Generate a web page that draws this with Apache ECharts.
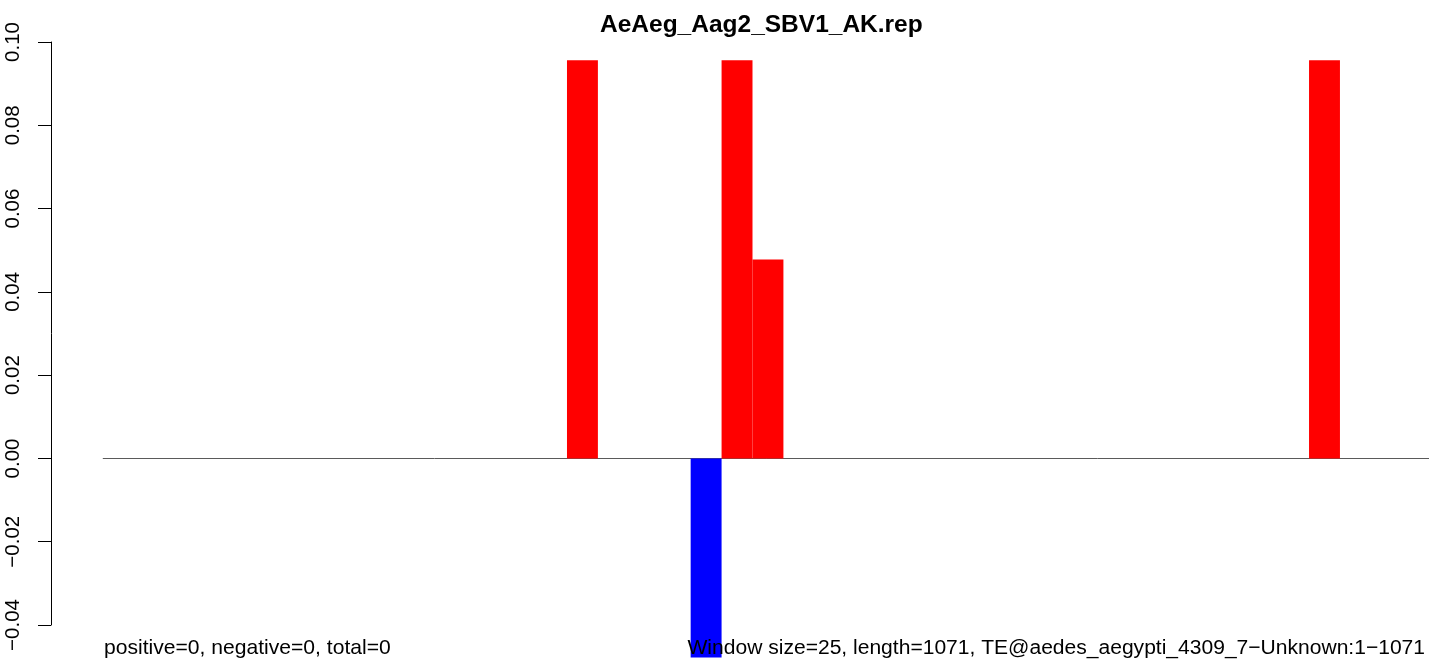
<!DOCTYPE html>
<html>
<head>
<meta charset="utf-8">
<script src="https://cdn.jsdelivr.net/npm/echarts@6/dist/echarts.min.js"></script>
<style>
html,body{margin:0;padding:0;background:#fff;}
#chart{width:1429px;height:664px;}
</style>
</head>
<body>
<div id="chart"></div>
<script>
// ---- data ----
var chartTitle = 'AeAeg_Aag2_SBV1_AK.rep';
var windowValues = [
  0, 0, 0, 0, 0, 0, 0, 0, 0, 0,
  0, 0, 0, 0, 0, 0.0956, 0, 0, 0, -0.0478,
  0.0956, 0.0478, 0, 0, 0, 0, 0, 0, 0, 0,
  0, 0, 0, 0, 0, 0, 0, 0, 0, 0.0956,
  0, 0, 0
];
var yTickValues = [-0.04, -0.02, 0.00, 0.02, 0.04, 0.06, 0.08, 0.10];
var yTickLabels = ['\u22120.04', '\u22120.02', '0.00', '0.02', '0.04', '0.06', '0.08', '0.10'];
var leftNote = 'positive=0, negative=0, total=0';
var rightNote = 'Window size=25, length=1071, TE@aedes_aegypti_4309_7\u2212Unknown:1\u22121071';

// bars placed at window centres (index + 0.5) on a value x-axis
var barData = windowValues.map(function (v, i) { return [i + 0.5, v]; });

var FONT = '"Liberation Sans", Arial, Helvetica, sans-serif';
var chart = echarts.init(document.getElementById('chart'), null, {renderer: 'canvas'});
chart.setOption({
  animation: false,
  backgroundColor: '#ffffff',
  title: {
    text: chartTitle,
    left: 600,
    top: 13,
    padding: 0,
    textStyle: {fontFamily: FONT, fontSize: 24.5, fontWeight: 'bold', color: '#000'}
  },
  grid: {left: 103.2, top: 42, right: 0, height: 583, containLabel: false},
  xAxis: {
    type: 'value',
    min: 0,
    max: 42.88,
    axisLine: {show: true, onZero: true, lineStyle: {color: '#5a5a5a', width: 1}},
    axisTick: {show: false},
    axisLabel: {show: false},
    splitLine: {show: false}
  },
  yAxis: {
    type: 'value',
    min: -0.04,
    max: 0.10,
    interval: 0.02,
    offset: 52.2,
    axisLine: {show: true, onZero: false, lineStyle: {color: '#000', width: 1}},
    axisTick: {show: true, length: 13, lineStyle: {color: '#000', width: 1}},
    splitLine: {show: false},
    axisLabel: {
      rotate: 90,
      margin: 27,
      fontFamily: FONT,
      fontSize: 20.5,
      color: '#000',
      formatter: function (v) {
        for (var k = 0; k < yTickValues.length; k++) {
          if (Math.abs(yTickValues[k] - v) < 1e-9) return yTickLabels[k];
        }
        return '';
      }
    }
  },
  series: [{
    type: 'bar',
    data: barData,
    barWidth: 30.92,
    clip: false,
    itemStyle: {
      color: function (p) { return p.value[1] >= 0 ? '#ff0000' : '#0000ff'; }
    }
  }],
  graphic: [
    {type: 'text', left: 104, top: 638, style: {text: leftNote, font: '21.1px ' + FONT, fill: '#000'}, z: 100},
    {type: 'text', right: 4, top: 638, style: {text: rightNote, font: '21.05px ' + FONT, fill: '#000'}, z: 100}
  ]
});
</script>
</body>
</html>
